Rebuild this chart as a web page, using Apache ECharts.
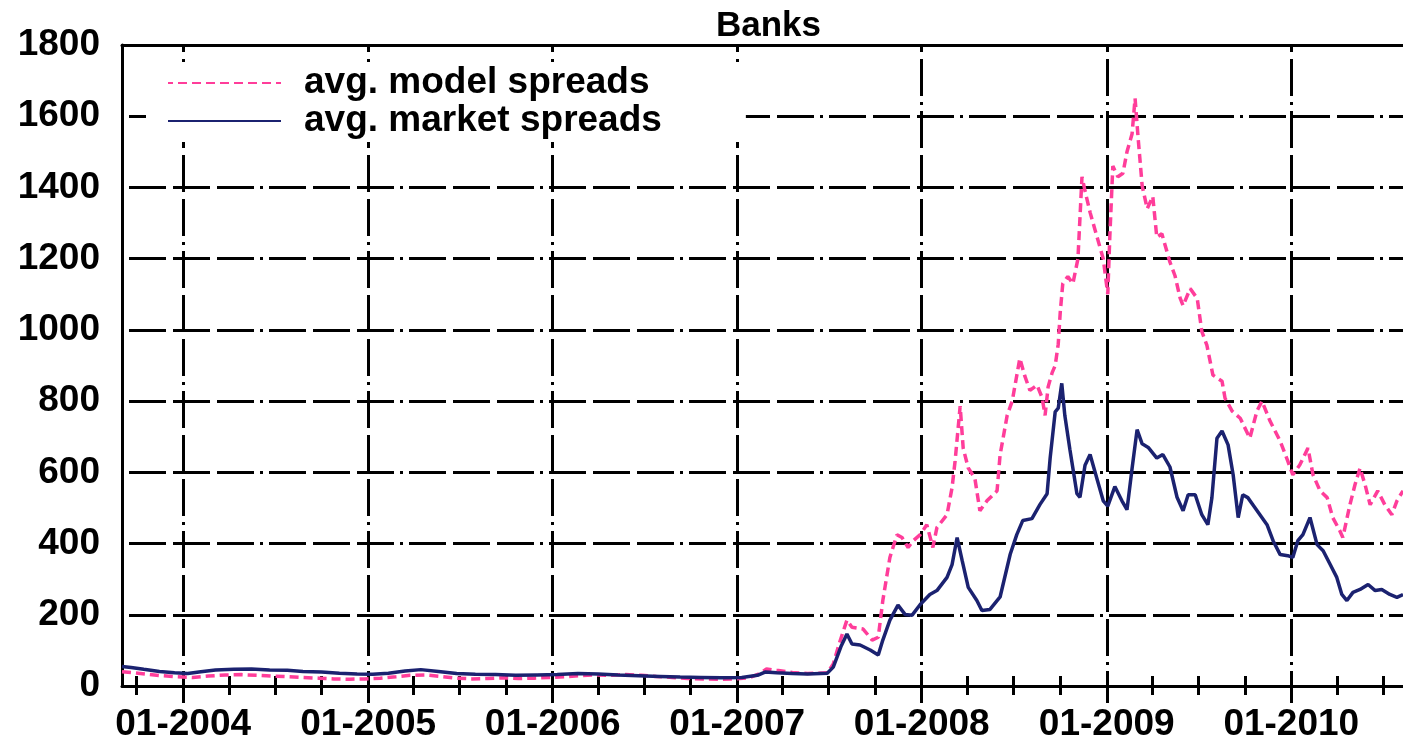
<!DOCTYPE html>
<html>
<head>
<meta charset="utf-8">
<script src="https://cdn.jsdelivr.net/npm/echarts@6/dist/echarts.min.js"></script>
<style>
  html, body { margin: 0; padding: 0; background: #fff; }
  #chart { width: 1403px; height: 743px; }
</style>
</head>
<body>
<div id="chart"></div>
<script>
// Average CDS spreads of the bank sample (basis points), model vs. market.
const chartTitle = 'Banks';
const seriesNames = ['avg. model spreads', 'avg. market spreads'];

const axisStart = '2003-09-02';
const axisEnd = '2010-08-10';
const yearTicks = ['2004-01-01', '2005-01-01', '2006-01-01', '2007-01-01',
                   '2008-01-01', '2009-01-01', '2010-01-01'];
const valueRange = [0, 1800];
const valueStep = 200;

const modelSpreads = [
  ['2003-09-02', 40], ['2003-09-25', 37], ['2003-10-20', 33], ['2003-11-20', 29],
  ['2003-12-20', 26], ['2004-01-20', 24], ['2004-02-20', 28], ['2004-03-25', 31],
  ['2004-04-25', 32], ['2004-05-25', 30], ['2004-06-25', 28], ['2004-07-25', 26],
  ['2004-08-25', 24], ['2004-09-25', 22], ['2004-10-25', 20], ['2004-11-25', 19],
  ['2004-12-25', 20], ['2005-01-25', 22], ['2005-02-25', 26], ['2005-03-25', 30],
  ['2005-04-25', 31], ['2005-05-25', 27], ['2005-06-25', 22], ['2005-07-25', 20],
  ['2005-08-25', 21], ['2005-09-25', 23], ['2005-10-25', 21], ['2005-11-25', 22],
  ['2005-12-25', 24], ['2006-01-25', 26], ['2006-02-25', 29], ['2006-03-25', 31],
  ['2006-04-25', 30], ['2006-05-25', 32], ['2006-06-25', 30], ['2006-07-25', 27],
  ['2006-08-25', 24], ['2006-09-25', 21], ['2006-10-25', 20], ['2006-11-25', 19],
  ['2006-12-25', 20], ['2007-01-25', 23], ['2007-02-15', 35], ['2007-02-28', 48],
  ['2007-03-20', 44], ['2007-04-20', 38], ['2007-05-20', 35], ['2007-06-28', 37],
  ['2007-07-10', 62], ['2007-07-22', 120], ['2007-08-06', 185], ['2007-08-16', 165],
  ['2007-09-07', 160], ['2007-09-25', 129], ['2007-10-07', 137], ['2007-10-16', 240],
  ['2007-10-30', 361], ['2007-11-13', 425], ['2007-11-23', 417], ['2007-12-05', 389],
  ['2007-12-15', 408], ['2007-12-29', 425], ['2008-01-11', 453], ['2008-01-23', 389],
  ['2008-01-31', 445], ['2008-02-20', 481], ['2008-03-01', 557], ['2008-03-07', 632],
  ['2008-03-17', 786], ['2008-03-23', 668], ['2008-04-02', 612], ['2008-04-15', 584],
  ['2008-04-25', 492], ['2008-05-09', 520], ['2008-05-29', 548], ['2008-06-04', 649],
  ['2008-06-18', 760], ['2008-06-28', 800], ['2008-07-13', 920], ['2008-07-23', 870],
  ['2008-08-02', 830], ['2008-08-16', 845], ['2008-08-26', 810], ['2008-09-01', 760],
  ['2008-09-07', 840], ['2008-09-15', 880], ['2008-09-21', 900], ['2008-09-27', 960],
  ['2008-10-01', 1050], ['2008-10-06', 1130], ['2008-10-16', 1150], ['2008-10-26', 1130],
  ['2008-11-05', 1200], ['2008-11-13', 1430], ['2008-11-19', 1390], ['2008-11-29', 1330],
  ['2008-12-13', 1260], ['2008-12-25', 1200], ['2009-01-03', 1100], ['2009-01-07', 1260],
  ['2009-01-13', 1460], ['2009-01-23', 1430], ['2009-02-02', 1440], ['2009-02-10', 1500],
  ['2009-02-20', 1550], ['2009-02-26', 1650], ['2009-03-04', 1540], ['2009-03-12', 1405],
  ['2009-03-22', 1340], ['2009-04-02', 1375], ['2009-04-10', 1260], ['2009-04-20', 1270],
  ['2009-05-06', 1190], ['2009-05-16', 1152], ['2009-05-26', 1090], ['2009-06-01', 1068],
  ['2009-06-15', 1116], ['2009-06-29', 1088], ['2009-07-08', 996], ['2009-07-18', 957],
  ['2009-07-30', 873], ['2009-08-17', 856], ['2009-08-23', 808], ['2009-09-06', 772],
  ['2009-09-22', 752], ['2009-10-11', 696], ['2009-10-25', 772], ['2009-11-04', 800],
  ['2009-11-20', 744], ['2009-12-10', 688], ['2009-12-25', 632], ['2010-01-04', 593],
  ['2010-01-18', 621], ['2010-02-03', 668], ['2010-02-13', 593], ['2010-02-27', 548],
  ['2010-03-13', 529], ['2010-03-24', 473], ['2010-04-07', 436], ['2010-04-13', 417],
  ['2010-04-27', 509], ['2010-05-07', 565], ['2010-05-17', 612], ['2010-05-27', 565],
  ['2010-06-06', 509], ['2010-06-21', 548], ['2010-07-05', 509], ['2010-07-19', 481],
  ['2010-07-29', 520], ['2010-08-10', 548]
];

const marketSpreads = [
  ['2003-09-02', 55], ['2003-09-20', 52], ['2003-10-15', 47], ['2003-11-15', 41],
  ['2003-12-15', 37], ['2004-01-10', 35], ['2004-02-05', 40], ['2004-03-05', 45],
  ['2004-04-10', 47], ['2004-05-15', 48], ['2004-06-20', 45], ['2004-07-25', 44],
  ['2004-08-25', 41], ['2004-10-01', 39], ['2004-11-05', 36], ['2004-12-10', 34],
  ['2005-01-10', 33], ['2005-02-10', 36], ['2005-03-15', 42], ['2005-04-15', 46],
  ['2005-05-20', 41], ['2005-06-25', 35], ['2005-08-01', 33], ['2005-09-10', 32],
  ['2005-10-20', 30], ['2005-12-01', 31], ['2006-01-10', 32], ['2006-02-20', 35],
  ['2006-04-01', 34], ['2006-05-10', 31], ['2006-06-20', 29], ['2006-08-01', 27],
  ['2006-09-10', 25], ['2006-10-20', 24], ['2006-12-01', 23], ['2007-01-10', 24],
  ['2007-02-10', 30], ['2007-02-25', 39], ['2007-03-20', 37], ['2007-04-20', 35],
  ['2007-05-20', 34], ['2007-06-28', 36], ['2007-07-10', 53], ['2007-07-25', 110],
  ['2007-08-06', 146], ['2007-08-16', 118], ['2007-09-01', 115], ['2007-09-21', 101],
  ['2007-10-07', 87], ['2007-10-16', 129], ['2007-10-30', 185], ['2007-11-15', 227],
  ['2007-11-29', 201], ['2007-12-13', 199], ['2007-12-29', 229], ['2008-01-17', 257],
  ['2008-01-31', 268], ['2008-02-20', 305], ['2008-03-01', 341], ['2008-03-11', 417],
  ['2008-03-21', 352], ['2008-04-02', 277], ['2008-04-19', 240], ['2008-04-29', 212],
  ['2008-05-15', 215], ['2008-06-04', 250], ['2008-06-24', 370], ['2008-07-07', 425],
  ['2008-07-19', 465], ['2008-08-06', 470], ['2008-08-22', 510], ['2008-09-05', 540],
  ['2008-09-11', 640], ['2008-09-21', 770], ['2008-09-27', 780], ['2008-10-04', 850],
  ['2008-10-10', 760], ['2008-10-20', 665], ['2008-11-03', 540], ['2008-11-09', 530],
  ['2008-11-19', 620], ['2008-11-29', 650], ['2008-12-13', 580], ['2008-12-25', 520],
  ['2009-01-03', 505], ['2009-01-17', 560], ['2009-01-31', 520], ['2009-02-10', 495],
  ['2009-02-20', 610], ['2009-03-02', 720], ['2009-03-12', 680], ['2009-03-24', 670],
  ['2009-04-10', 640], ['2009-04-22', 650], ['2009-05-06', 615], ['2009-05-20', 530],
  ['2009-06-01', 492], ['2009-06-11', 537], ['2009-06-25', 537], ['2009-07-08', 481],
  ['2009-07-20', 453], ['2009-07-28', 529], ['2009-08-07', 696], ['2009-08-17', 716],
  ['2009-08-29', 677], ['2009-09-08', 593], ['2009-09-18', 473], ['2009-09-27', 537],
  ['2009-10-07', 529], ['2009-10-17', 509], ['2009-10-31', 481], ['2009-11-14', 453],
  ['2009-11-26', 408], ['2009-12-10', 369], ['2009-12-25', 366], ['2010-01-04', 361],
  ['2010-01-14', 408], ['2010-01-24', 425], ['2010-02-07', 473], ['2010-02-21', 397],
  ['2010-03-05', 380], ['2010-03-19', 341], ['2010-04-01', 305], ['2010-04-11', 257],
  ['2010-04-21', 240], ['2010-05-03', 263], ['2010-05-17', 271], ['2010-06-02', 285],
  ['2010-06-16', 268], ['2010-06-29', 271], ['2010-07-15', 257], ['2010-07-29', 249],
  ['2010-08-10', 257]
];

const toMs = d => Date.parse(d);
const xMin = toMs(axisStart);
const xMax = toMs(axisEnd);
const yearTickValues = yearTicks.map(toMs);

// quarter ticks (first day of Jan/Apr/Jul/Oct) across the visible span
const quarterTickValues = [];
for (let y = 2003; y <= 2010; y++) {
  for (const m of [0, 3, 6, 9]) {
    const t = Date.UTC(y, m, 1);
    if (t >= xMin && t <= xMax) quarterTickValues.push(t);
  }
}

const FONT = "'Liberation Sans', Arial, Helvetica, sans-serif";
const WEIGHT = 'bold';
const INK = '#000';
const gridDash = [37, 7, 37, 7, 37, 6, 3, 6];

const hidden = { show: false };
const baseX = { type: 'value', min: xMin, max: xMax, gridIndex: 0, position: 'bottom' };

const option = {
  animation: false,
  backgroundColor: '#fff',
  title: {
    text: chartTitle,
    left: 716,
    top: 9,
    padding: 0,
    textStyle: { fontFamily: FONT, fontSize: 35, fontWeight: WEIGHT, color: INK }
  },
  legend: {
    orient: 'vertical',
    left: 146,
    top: 62,
    padding: [2, 84, 2, 21],
    itemGap: 0,
    itemWidth: 113,
    itemHeight: 14,
    backgroundColor: '#fff',
    data: seriesNames,
    itemStyle: { opacity: 0 },
    textStyle: {
      fontFamily: FONT, fontSize: 37, fontWeight: WEIGHT, color: INK, lineHeight: 38,
      padding: [0, 0, 0, 18]
    }
  },
  grid: { left: 122, right: 0, top: 45, bottom: 54, containLabel: false },
  xAxis: [
    // main axis: carries the data, bottom line and outward quarter ticks
    Object.assign({}, baseX, {
      axisLine: { show: true, onZero: false, lineStyle: { color: INK, width: 3 } },
      axisTick: { show: true, customValues: quarterTickValues, length: 9, inside: false,
                  lineStyle: { color: INK, width: 3 } },
      axisLabel: hidden,
      splitLine: hidden
    }),
    // inward half of the quarter ticks
    Object.assign({}, baseX, {
      axisLine: { show: false, onZero: false },
      axisTick: { show: true, customValues: quarterTickValues, length: 10, inside: true,
                  lineStyle: { color: INK, width: 3 } },
      axisLabel: hidden,
      splitLine: hidden
    }),
    // year ticks, labels and vertical grid lines
    Object.assign({}, baseX, {
      axisLine: { show: false, onZero: false },
      axisTick: { show: true, customValues: yearTickValues, length: 17, inside: false,
                  lineStyle: { color: INK, width: 3 } },
      axisLabel: {
        show: true, customValues: yearTickValues, margin: 20,
        fontFamily: FONT, fontSize: 37, fontWeight: WEIGHT, color: INK,
        formatter: v => '01-' + new Date(v).getUTCFullYear()
      },
      splitLine: { show: true, lineStyle: { color: INK, width: 3, type: gridDash, dashOffset: 74 } }
    }),
    // top frame line
    Object.assign({}, baseX, {
      position: 'top',
      axisLine: { show: true, onZero: false, lineStyle: { color: INK, width: 3 } },
      axisTick: hidden,
      axisLabel: hidden,
      splitLine: hidden
    })
  ],
  yAxis: {
    type: 'value',
    min: valueRange[0],
    max: valueRange[1],
    interval: valueStep,
    axisLine: { show: true, lineStyle: { color: INK, width: 3 } },
    axisTick: hidden,
    axisLabel: {
      margin: 22, fontFamily: FONT, fontSize: 37, fontWeight: WEIGHT, color: INK,
      formatter: v => String(v)
    },
    splitLine: { show: true, lineStyle: { color: INK, width: 3, type: gridDash, dashOffset: 133 } }
  },
  series: [
    {
      name: seriesNames[0],
      type: 'line',
      xAxisIndex: 0,
      data: modelSpreads.map(([d, v]) => [toMs(d), v]),
      symbol: 'none',
      showSymbol: false,
      lineStyle: { color: '#ff3d9a', width: 3.5, type: [9, 5] },
      itemStyle: { color: '#ff3d9a' },
      z: 3
    },
    {
      name: seriesNames[1],
      type: 'line',
      xAxisIndex: 0,
      data: marketSpreads.map(([d, v]) => [toMs(d), v]),
      symbol: 'none',
      showSymbol: false,
      lineStyle: { color: '#1b2270', width: 3.5 },
      itemStyle: { color: '#1b2270' },
      z: 4
    }
  ]
};

const chart = echarts.init(document.getElementById('chart'), null, { renderer: 'canvas' });
chart.setOption(option);
</script>
</body>
</html>
